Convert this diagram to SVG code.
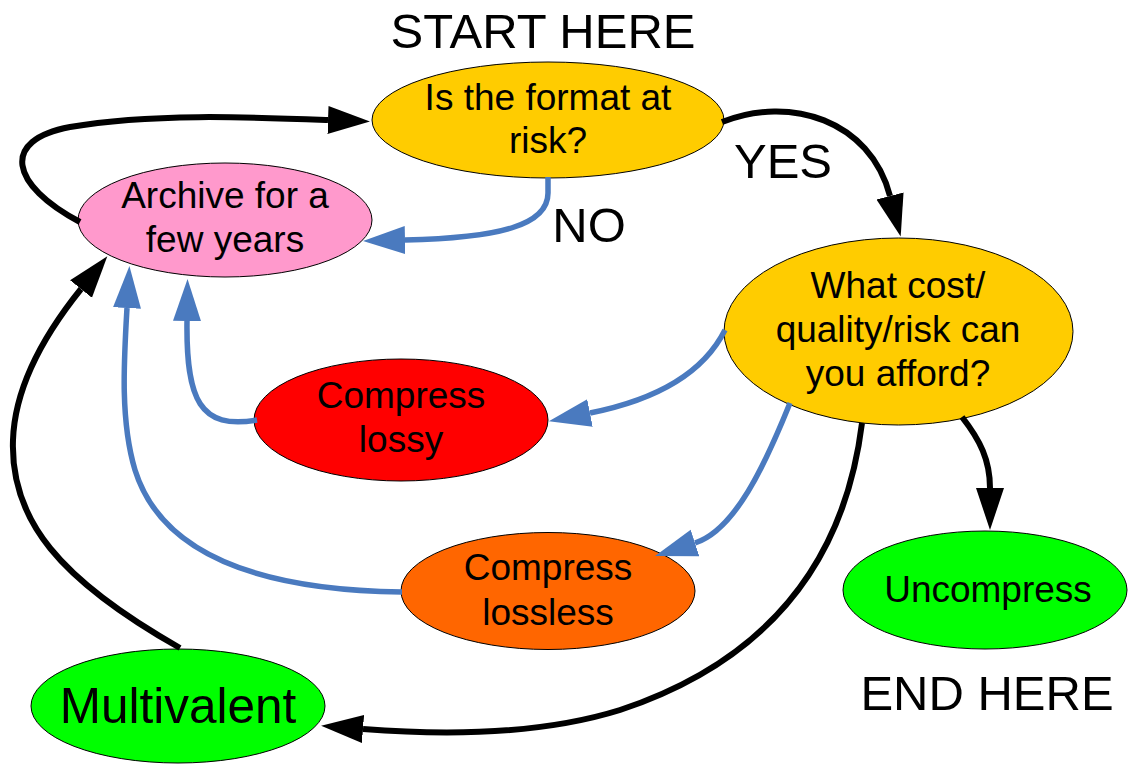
<svg xmlns="http://www.w3.org/2000/svg" width="1128" height="764" viewBox="0 0 1128 764">
<style>
  text { font-family: "Liberation Sans", Arial, sans-serif; fill: #000; text-anchor: middle; }
  .n { font-size: 37px; }
  .big { font-size: 49.5px; }
  .lbl { font-size: 49px; }
  .node { stroke: #000; stroke-width: 1; }
  .k { fill: none; stroke: #000; stroke-width: 6; marker-end: url(#ak); }
  .b { fill: none; stroke: #4a7abf; stroke-width: 5.5; marker-end: url(#ab); }
</style>
<defs>
  <marker id="ak" markerUnits="userSpaceOnUse" viewBox="0 -15 44 30" refX="0" refY="0" markerWidth="44" markerHeight="30" orient="auto">
    <path d="M0,-14 L42,0 L0,14 z" fill="#000"/>
  </marker>
  <marker id="ab" markerUnits="userSpaceOnUse" viewBox="0 -15 44 30" refX="0" refY="0" markerWidth="44" markerHeight="30" orient="auto">
    <path d="M0,-14 L42,0 L0,14 z" fill="#4a7abf"/>
  </marker>
</defs>
<rect width="1128" height="764" fill="#fff"/>

<g id="nodes">
  <g id="n-format">
    <ellipse class="node" cx="548" cy="120" rx="176" ry="58" fill="#ffcc00"/>
    <text class="n" x="548" y="110">Is the format at</text>
    <text class="n" x="548" y="153">risk?</text>
  </g>
  <g id="n-archive">
    <ellipse class="node" cx="225" cy="220" rx="147" ry="57" fill="#ff99cc"/>
    <text class="n" x="225" y="208">Archive for a</text>
    <text class="n" x="225" y="252">few years</text>
  </g>
  <g id="n-cost">
    <ellipse class="node" cx="898.5" cy="331.5" rx="174.5" ry="93.5" fill="#ffcc00"/>
    <text class="n" x="898" y="298">What cost/</text>
    <text class="n" x="898" y="342">quality/risk can</text>
    <text class="n" x="898" y="386">you afford?</text>
  </g>
  <g id="n-lossy">
    <ellipse class="node" cx="401" cy="420" rx="147" ry="61" fill="#ff0000"/>
    <text class="n" x="401" y="408">Compress</text>
    <text class="n" x="401" y="452">lossy</text>
  </g>
  <g id="n-lossless">
    <ellipse class="node" cx="548" cy="591" rx="147" ry="58.5" fill="#ff6600"/>
    <text class="n" x="548" y="580">Compress</text>
    <text class="n" x="548" y="625">lossless</text>
  </g>
  <g id="n-uncompress">
    <ellipse class="node" cx="985" cy="590" rx="142" ry="59" fill="#00ff00"/>
    <text class="n" x="988" y="602">Uncompress</text>
  </g>
  <g id="n-multivalent">
    <ellipse class="node" cx="178" cy="706" rx="147" ry="57" fill="#00ff00"/>
    <text class="big" x="178" y="723">Multivalent</text>
  </g>
</g>

<g id="connectors">
  <path class="k" d="M 80 222 C 10 185, 0 140, 70 127 C 150 113, 250 117, 328 120"/>
  <path class="k" d="M 722 122 C 790 95, 870 120, 890 196"/>
  <path class="b" d="M 548 177 L 548 193 C 548 225, 500 238, 405 240"/>
  <path class="b" d="M 725 330 C 700 380, 645 402, 590 413"/>
  <path class="b" d="M 790 403 C 765 465, 735 530, 695 543"/>
  <path class="k" d="M 862 423 C 845 560, 770 660, 620 710 C 540 735, 440 735, 363 729"/>
  <path class="k" d="M 962 417 C 980 440, 990 460, 990 488"/>
  <path class="k" d="M 180 648 C 60 580, 10 520, 13 440 C 15 380, 52 325, 81 289"/>
  <path class="b" d="M 402 592 C 250 590, 160 550, 135 470 C 120 420, 124 360, 127 308"/>
  <path class="b" d="M 257 420 C 200 430, 186 400, 187 321"/>
</g>

<g id="labels">
  <text class="lbl" x="543" y="48">START HERE</text>
  <text class="lbl" x="783" y="178">YES</text>
  <text class="lbl" x="589" y="242">NO</text>
  <text class="lbl" x="987" y="710">END HERE</text>
</g>
</svg>
